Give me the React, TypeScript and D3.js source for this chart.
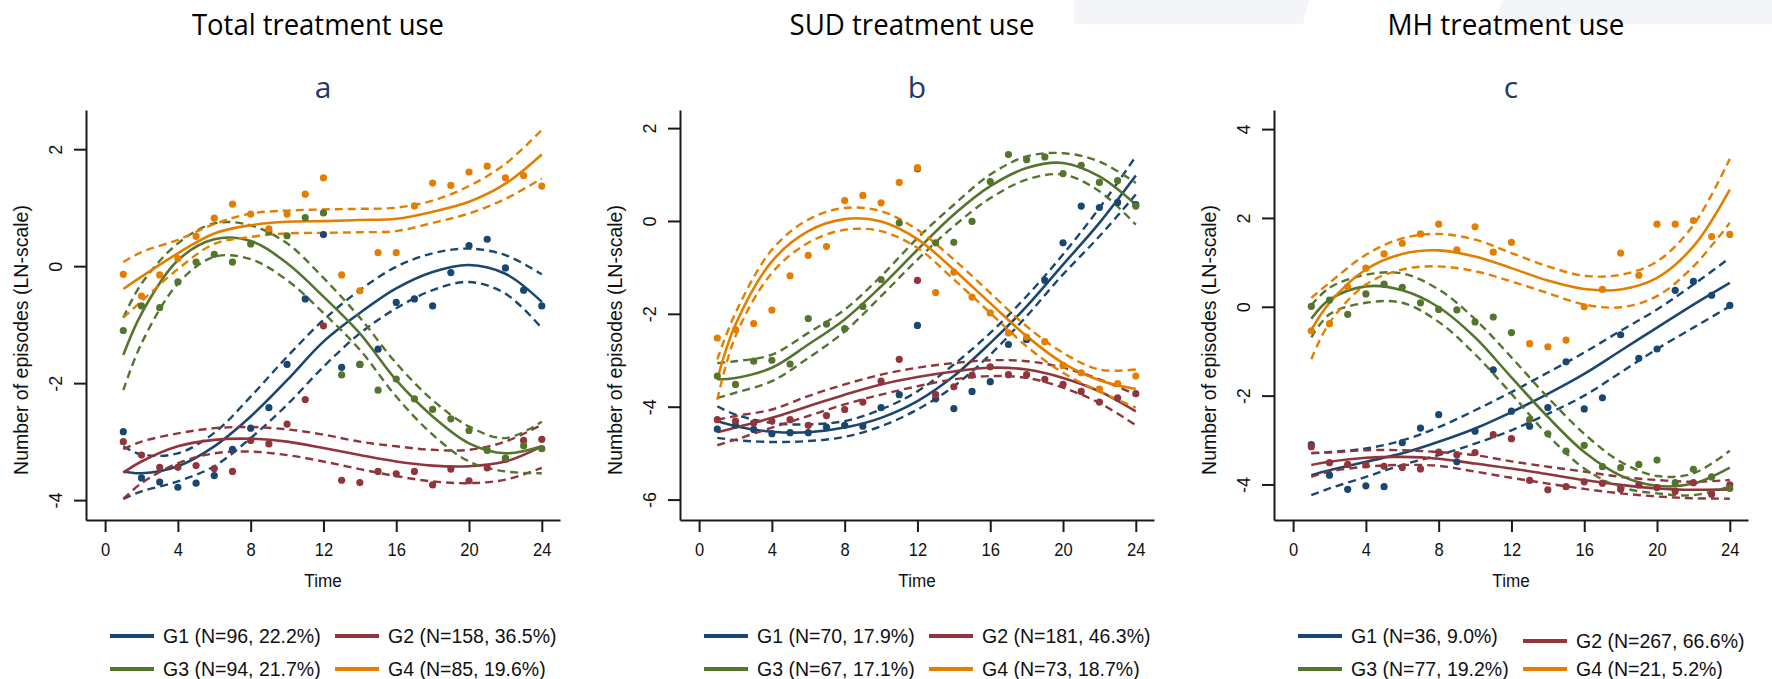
import React, { useRef, useEffect } from 'react';
import * as d3 from 'd3';

const W = 1772;
const H = 679;

// measurement occasions and the times where the fitted curves were read
const times = [1, 2, 3, 4, 5, 6, 7, 8, 9, 10, 11, 12, 13, 14, 15, 16, 17, 18, 19, 20, 21, 22, 23, 24];
const fitTimes = [1, 2, 4, 6, 8, 10, 12, 14, 16, 18, 20, 22, 24];

const panelTitles = ['Total treatment use', 'SUD treatment use', 'MH treatment use'];
const panelLetters = ['a', 'b', 'c'];
const groupColors = ['#1a476f', '#90353b', '#55752f', '#e37e00'];

const totalLegend = ['G1 (N=96, 22.2%)', 'G2 (N=158, 36.5%)', 'G3 (N=94, 21.7%)', 'G4 (N=85, 19.6%)'];
const sudLegend = ['G1 (N=70, 17.9%)', 'G2 (N=181, 46.3%)', 'G3 (N=67, 17.1%)', 'G4 (N=73, 18.7%)'];
const mhLegend = ['G1 (N=36, 9.0%)', 'G2 (N=267, 66.6%)', 'G3 (N=77, 19.2%)', 'G4 (N=21, 5.2%)'];

const xTicks = [0, 4, 8, 12, 16, 20, 24];
const totalYTicks = [-4, -2, 0, 2];
const sudYTicks = [-6, -4, -2, 0, 2];
const mhYTicks = [-4, -2, 0, 2, 4];
const totalYDomain = [-4.34, 2.67];
const sudYDomain = [-6.44, 2.39];
const mhYDomain = [-4.8, 4.43];

// observed means (points)
const totG1 = [-2.83, -3.62, -3.69, -3.78, -3.71, -3.58, -3.13, -2.77, -2.42, -1.68, -0.56, 0.54, -1.73, -1.68, -1.42, -0.62, -0.56, -0.68, -0.11, 0.35, 0.46, -0.03, -0.41, -0.68];
const totG2 = [-3.0, -3.23, -3.44, -3.44, -3.41, -3.46, -3.51, -2.98, -3.04, -2.7, -2.28, -1.02, -3.66, -3.7, -3.51, -3.55, -3.51, -3.74, -3.47, -3.67, -3.45, -3.3, -2.98, -2.96];
const totG3 = [-1.1, -0.68, -0.71, -0.27, 0.07, 0.2, 0.07, 0.38, 0.59, 0.52, 0.83, 0.91, -1.86, -1.68, -2.12, -1.93, -2.27, -2.45, -2.61, -2.81, -3.15, -3.28, -3.07, -3.12];
const totG4 = [-0.14, -0.51, -0.15, 0.13, 0.51, 0.82, 1.06, 0.89, 0.64, 0.89, 1.23, 1.51, -0.15, -0.42, 0.23, 0.23, 1.03, 1.42, 1.38, 1.61, 1.71, 1.51, 1.55, 1.37];

const sudG1 = [-4.48, -4.4, -4.49, -4.58, -4.56, -4.56, -4.44, -4.4, -4.42, -4.02, -3.74, -2.25, -3.83, -4.04, -3.67, -3.46, -2.66, -2.55, -1.28, -0.47, 0.32, 0.29, 0.4, 0.35];
const sudG2 = [-4.28, -4.31, -4.35, -4.31, -4.28, -4.4, -4.19, -4.06, -3.9, -3.45, -2.98, -1.28, -3.74, -3.57, -3.32, -3.14, -3.31, -3.31, -3.41, -3.52, -3.67, -3.9, -3.81, -3.72];
const sudG3 = [-3.34, -3.52, -3.02, -3.0, -3.08, -2.1, -2.22, -2.32, -1.84, -1.26, -0.04, 1.12, -0.47, -0.46, -0.01, 0.85, 1.43, 1.32, 1.38, 1.02, 1.2, 0.83, 0.87, 0.32];
const sudG4 = [-2.52, -2.34, -2.21, -1.92, -1.18, -0.74, -0.55, 0.44, 0.55, 0.39, 0.83, 1.15, -1.54, -1.1, -1.64, -1.98, -2.41, -2.5, -2.6, -3.11, -3.27, -3.62, -3.5, -3.34];

const mhG1 = [-3.1, -3.79, -4.11, -4.03, -4.05, -3.06, -2.73, -2.43, -3.49, -2.8, -1.42, -2.35, -2.69, -2.27, -1.24, -2.3, -2.05, -0.63, -1.16, -0.95, 0.37, 0.57, 0.26, 0.03];
const mhG2 = [-3.15, -3.51, -3.55, -3.56, -3.59, -3.62, -3.65, -3.27, -3.33, -3.28, -2.88, -2.97, -3.91, -4.12, -4.05, -3.94, -3.97, -4.11, -4.01, -4.07, -4.15, -3.96, -4.22, -4.01];
const mhG3 = [0.01, 0.15, -0.17, 0.29, 0.51, 0.44, 0.09, -0.06, -0.07, -0.34, -0.23, -0.58, -2.54, -2.86, -3.25, -3.12, -3.6, -3.62, -3.55, -3.45, -3.96, -3.66, -3.83, -4.09];
const mhG4 = [-0.54, -0.38, 0.45, 0.87, 1.19, 1.43, 1.64, 1.86, 1.28, 1.8, 1.23, 1.45, -0.83, -0.9, -0.75, 0.0, 0.39, 1.21, 0.71, 1.86, 1.86, 1.94, 1.58, 1.63];

// fitted trajectories with lower / upper confidence bands
const totG1Fit = [-3.51, -3.54, -3.42, -3.08, -2.57, -1.95, -1.29, -0.8, -0.38, -0.1, 0.02, -0.13, -0.61];
const totG1Lo = [-3.98, -3.85, -3.68, -3.42, -2.94, -2.37, -1.72, -1.15, -0.72, -0.41, -0.27, -0.47, -1.06];
const totG1Hi = [-3.08, -3.22, -3.2, -2.85, -2.23, -1.55, -0.92, -0.41, -0.01, 0.22, 0.3, 0.19, -0.14];
const totG2Fit = [-3.53, -3.34, -3.08, -2.97, -2.95, -3.0, -3.11, -3.23, -3.34, -3.41, -3.42, -3.34, -3.08];
const totG2Lo = [-3.98, -3.71, -3.37, -3.2, -3.17, -3.23, -3.34, -3.47, -3.59, -3.68, -3.71, -3.65, -3.45];
const totG2Hi = [-3.13, -3.0, -2.86, -2.77, -2.75, -2.79, -2.88, -3.0, -3.08, -3.14, -3.14, -3.0, -2.71];
const totG3Fit = [-1.52, -0.81, 0.1, 0.46, 0.43, 0.05, -0.52, -1.15, -1.95, -2.57, -3.03, -3.2, -3.08];
const totG3Lo = [-2.12, -1.32, -0.3, 0.16, 0.12, -0.24, -0.8, -1.43, -2.23, -2.88, -3.34, -3.51, -3.54];
const totG3Hi = [-0.88, -0.3, 0.39, 0.73, 0.7, 0.39, -0.2, -0.88, -1.66, -2.29, -2.74, -2.94, -2.66];
const totG4Fit = [-0.39, -0.18, 0.22, 0.56, 0.7, 0.76, 0.77, 0.79, 0.81, 0.93, 1.1, 1.41, 1.91];
const totG4Lo = [-0.88, -0.6, -0.05, 0.38, 0.5, 0.56, 0.57, 0.58, 0.6, 0.74, 0.9, 1.15, 1.5];
const totG4Hi = [0.07, 0.24, 0.45, 0.72, 0.9, 0.95, 0.97, 0.98, 1.0, 1.12, 1.37, 1.75, 2.33];

const sudG1Fit = [-4.31, -4.42, -4.54, -4.55, -4.45, -4.24, -3.88, -3.34, -2.63, -1.84, -0.94, -0.04, 0.98];
const sudG1Lo = [-4.67, -4.72, -4.76, -4.74, -4.65, -4.42, -4.06, -3.56, -2.88, -2.05, -1.15, -0.33, 0.57];
const sudG1Hi = [-3.99, -4.17, -4.35, -4.38, -4.31, -4.06, -3.67, -3.09, -2.41, -1.62, -0.72, 0.28, 1.39];
const sudG2Fit = [-4.55, -4.45, -4.24, -3.99, -3.74, -3.52, -3.36, -3.24, -3.16, -3.2, -3.38, -3.67, -4.1];
const sudG2Lo = [-4.83, -4.71, -4.45, -4.2, -3.95, -3.74, -3.56, -3.41, -3.34, -3.38, -3.59, -3.92, -4.4];
const sudG2Hi = [-4.28, -4.2, -4.06, -3.77, -3.52, -3.31, -3.16, -3.06, -3.0, -3.02, -3.16, -3.41, -3.74];
const sudG3Fit = [-3.41, -3.38, -3.16, -2.66, -2.12, -1.41, -0.62, 0.14, 0.75, 1.14, 1.25, 0.96, 0.35];
const sudG3Lo = [-3.81, -3.7, -3.45, -2.95, -2.38, -1.62, -0.83, -0.11, 0.49, 0.89, 1.0, 0.64, -0.08];
const sudG3Hi = [-3.06, -3.02, -2.88, -2.41, -1.91, -1.19, -0.37, 0.35, 1.0, 1.39, 1.46, 1.28, 0.82];
const sudG4Fit = [-3.41, -2.23, -0.87, -0.22, 0.04, -0.01, -0.39, -1.05, -1.77, -2.48, -3.06, -3.43, -3.62];
const sudG4Lo = [-3.85, -2.48, -1.12, -0.47, -0.19, -0.22, -0.58, -1.26, -1.98, -2.7, -3.27, -3.67, -4.02];
const sudG4Hi = [-2.98, -1.98, -0.62, 0.03, 0.28, 0.21, -0.19, -0.83, -1.55, -2.27, -2.84, -3.2, -3.2];

const mhG1Fit = [-3.79, -3.68, -3.49, -3.3, -3.04, -2.74, -2.37, -1.96, -1.51, -0.99, -0.47, 0.05, 0.54];
const mhG1Lo = [-4.24, -4.09, -3.83, -3.56, -3.34, -3.08, -2.78, -2.41, -2.0, -1.48, -0.95, -0.47, 0.01];
const mhG1Hi = [-3.3, -3.27, -3.19, -3.01, -2.71, -2.33, -1.92, -1.48, -1.03, -0.54, -0.06, 0.5, 1.1];
const mhG2Fit = [-3.56, -3.49, -3.4, -3.38, -3.42, -3.53, -3.64, -3.77, -3.9, -4.01, -4.09, -4.12, -4.11];
const mhG2Lo = [-3.83, -3.71, -3.6, -3.56, -3.58, -3.71, -3.85, -3.98, -4.1, -4.2, -4.27, -4.31, -4.32];
const mhG2Hi = [-3.29, -3.28, -3.23, -3.23, -3.27, -3.34, -3.48, -3.6, -3.71, -3.83, -3.9, -3.94, -3.9];
const mhG3Fit = [-0.27, 0.16, 0.46, 0.37, -0.01, -0.69, -1.59, -2.48, -3.27, -3.8, -4.03, -3.98, -3.62];
const mhG3Lo = [-0.69, -0.17, 0.09, 0.09, -0.34, -1.07, -1.96, -2.89, -3.64, -4.06, -4.2, -4.24, -4.05];
const mhG3Hi = [0.03, 0.43, 0.72, 0.75, 0.39, -0.28, -1.14, -2.04, -2.86, -3.49, -3.81, -3.75, -3.24];
const mhG4Fit = [-0.52, 0.09, 0.84, 1.19, 1.27, 1.13, 0.87, 0.59, 0.4, 0.39, 0.65, 1.36, 2.64];
const mhG4Lo = [-1.18, -0.36, 0.5, 0.84, 0.91, 0.8, 0.57, 0.31, 0.05, -0.01, 0.24, 0.91, 1.89];
const mhG4Hi = [0.2, 0.54, 1.17, 1.54, 1.64, 1.51, 1.21, 0.91, 0.7, 0.72, 1.02, 1.84, 3.33];

const panels = [
  {
    legend: totalLegend, yTicks: totalYTicks, yDomain: totalYDomain,
    points: [totG1, totG2, totG3, totG4],
    fits: [totG1Fit, totG2Fit, totG3Fit, totG4Fit],
    los: [totG1Lo, totG2Lo, totG3Lo, totG4Lo],
    his: [totG1Hi, totG2Hi, totG3Hi, totG4Hi],
    titleWidth: 252,
  },
  {
    legend: sudLegend, yTicks: sudYTicks, yDomain: sudYDomain,
    points: [sudG1, sudG2, sudG3, sudG4],
    fits: [sudG1Fit, sudG2Fit, sudG3Fit, sudG4Fit],
    los: [sudG1Lo, sudG2Lo, sudG3Lo, sudG4Lo],
    his: [sudG1Hi, sudG2Hi, sudG3Hi, sudG4Hi],
    titleWidth: 245,
  },
  {
    legend: mhLegend, yTicks: mhYTicks, yDomain: mhYDomain,
    points: [mhG1, mhG2, mhG3, mhG4],
    fits: [mhG1Fit, mhG2Fit, mhG3Fit, mhG4Fit],
    los: [mhG1Lo, mhG2Lo, mhG3Lo, mhG4Lo],
    his: [mhG1Hi, mhG2Hi, mhG3Hi, mhG4Hi],
    titleWidth: 237,
  },
];

const FONT = '"Liberation Sans", Arial, sans-serif';
const TITLE_FONT = '"Open Sans", "Noto Sans", sans-serif';

const App = () => {
  const ref = useRef<SVGSVGElement | null>(null);

  useEffect(() => {
    document.body.style.margin = '0';
    if (!ref.current) return;
    const svg = d3.select(ref.current);
    svg.selectAll('*').remove();

    svg.append('rect').attr('width', W).attr('height', H).attr('fill', '#fff');

    // faint shapes at the top edge of the source image
    svg.append('polygon')
      .attr('points', '1074,0 1309,0 1303,24 1074,24')
      .attr('fill', '#f4f5f9');
    svg.append('polygon')
      .attr('points', '1503,0 1772,0 1772,24 1494,24')
      .attr('fill', '#f4f5f9');

    const top = 110;
    const bottom = 520;

    panels.forEach((p, i) => {
      const left = 86 + 594 * i;
      const right = left + 474;
      const cx = (left + right) / 2;

      const x = d3.scaleLinear().domain([-1.05, 25]).range([left, right]);
      const y = d3.scaleLinear().domain(p.yDomain).range([bottom, top]);

      const g = svg.append('g');

      g.append('text')
        .attr('x', cx - 5).attr('y', 35)
        .attr('text-anchor', 'middle')
        .attr('font-family', TITLE_FONT).attr('font-size', 29)
        .attr('textLength', p.titleWidth).attr('lengthAdjust', 'spacingAndGlyphs')
        .attr('fill', '#000')
        .text(panelTitles[i]);

      g.append('text')
        .attr('x', cx).attr('y', 98)
        .attr('text-anchor', 'middle')
        .attr('font-family', TITLE_FONT).attr('font-size', 30)
        .attr('fill', '#24396b')
        .text(panelLetters[i]);

      // axes
      const xAxis = g.append('g')
        .attr('transform', `translate(0,${bottom})`)
        .call(d3.axisBottom(x).tickValues(xTicks).tickSize(12).tickSizeOuter(0).tickPadding(11)
          .tickFormat(d => String(d)));
      const yAxis = g.append('g')
        .attr('transform', `translate(${left},0)`)
        .call(d3.axisLeft(y).tickValues(p.yTicks).tickSize(12).tickSizeOuter(0)
          .tickFormat(d => String(d)));

      [xAxis, yAxis].forEach(a => {
        a.select('.domain').attr('stroke', '#1a1a1a').attr('stroke-width', 2);
        a.selectAll('.tick line').attr('stroke', '#1a1a1a').attr('stroke-width', 2);
        a.selectAll('.tick text')
          .attr('font-family', FONT).attr('font-size', 18).attr('fill', '#111');
      });
      xAxis.selectAll('.tick text').attr('transform', 'scale(0.92,1)');
      yAxis.selectAll('.tick text')
        .attr('transform', 'rotate(-90)')
        .attr('x', 0).attr('y', -24).attr('dy', 0)
        .attr('text-anchor', 'middle');

      g.append('text')
        .attr('transform', `translate(${left - 58},340) rotate(-90)`)
        .attr('text-anchor', 'middle')
        .attr('font-family', FONT).attr('font-size', 19.5).attr('fill', '#111')
        .text('Number of episodes (LN-scale)');

      g.append('text')
        .attr('transform', `translate(${cx},587) scale(0.9,1)`)
        .attr('text-anchor', 'middle')
        .attr('font-family', FONT).attr('font-size', 19).attr('fill', '#111')
        .text('Time');

      const line = d3.line<[number, number]>()
        .x(d => x(d[0]))
        .y(d => y(d[1]))
        .curve(d3.curveCatmullRom.alpha(0.5));

      const pairs = (vals: number[]) => fitTimes.map((t, k) => [t, vals[k]] as [number, number]);

      // confidence bands and fitted trajectories
      groupColors.forEach((col, k) => {
        [p.los[k], p.his[k]].forEach(band => {
          g.append('path')
            .attr('d', line(pairs(band)))
            .attr('fill', 'none').attr('stroke', col)
            .attr('stroke-width', 2.4).attr('stroke-dasharray', '8,5');
        });
        g.append('path')
          .attr('d', line(pairs(p.fits[k])))
          .attr('fill', 'none').attr('stroke', col).attr('stroke-width', 2.6);
      });

      // observed means
      groupColors.forEach((col, k) => {
        g.append('g').selectAll('circle')
          .data(times.map((t, j) => [t, p.points[k][j]]))
          .enter()
          .append('circle')
          .attr('cx', d => x(d[0]))
          .attr('cy', d => y(d[1]))
          .attr('r', 3.6)
          .attr('fill', col);
      });

      // legend
      p.legend.forEach((lab, k) => {
        const col = k % 2;
        const row = Math.floor(k / 2);
        const sx = col === 0 ? cx - 213 : cx + 12;
        let ry = row === 0 ? 636 : 669;
        if (i === 2 && k === 1) ry += 5;
        g.append('line')
          .attr('x1', sx).attr('x2', sx + 44)
          .attr('y1', ry).attr('y2', ry)
          .attr('stroke', groupColors[k]).attr('stroke-width', 4);
        g.append('text')
          .attr('x', sx + 53).attr('y', ry + 7)
          .attr('font-family', FONT).attr('font-size', 19.5).attr('fill', '#111')
          .text(lab);
      });
    });
  }, []);

  return (
    <div className="chart-container">
      <svg ref={ref} width={W} height={H} style={{ display: 'block' }} />
    </div>
  );
};

export default App;
